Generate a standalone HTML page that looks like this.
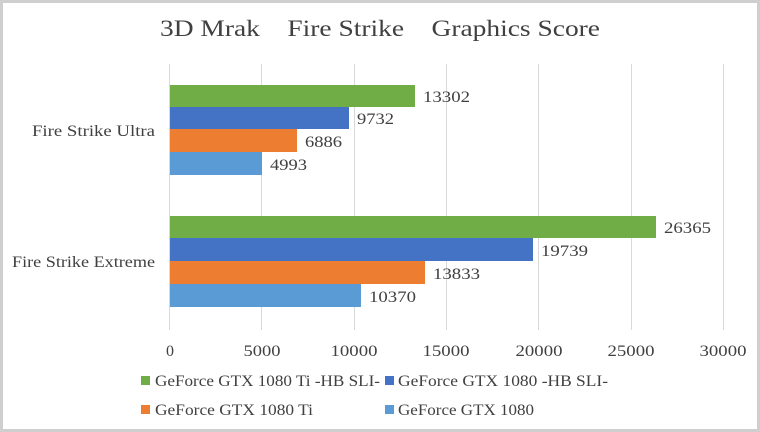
<!DOCTYPE html>
<html><head><style>
html,body{margin:0;padding:0;background:#fff;}
svg{display:block;}
text{font-family:"Liberation Serif","Noto Serif CJK SC",serif;fill:#404040;}
</style></head><body>
<svg width="760" height="432" xmlns="http://www.w3.org/2000/svg">
<rect x="1.5" y="1.5" width="757" height="429" fill="#fff" stroke="#cfcfcf" stroke-width="3"/>
<text x="160" y="36" font-size="23" textLength="440" lengthAdjust="spacingAndGlyphs" fill="#404040">3D Mrak　Fire Strike　Graphics Score</text>
<g stroke="#d9d9d9" stroke-width="1">
<line x1="169.5" y1="64" x2="169.5" y2="330"/>
<line x1="261.5" y1="64" x2="261.5" y2="330"/>
<line x1="354.5" y1="64" x2="354.5" y2="330"/>
<line x1="446.5" y1="64" x2="446.5" y2="330"/>
<line x1="538.5" y1="64" x2="538.5" y2="330"/>
<line x1="631.5" y1="64" x2="631.5" y2="330"/>
<line x1="723.5" y1="64" x2="723.5" y2="330"/>
</g>
<g>
<rect x="170" y="85" width="245" height="22" fill="#70ad47"/>
<rect x="170" y="107" width="179" height="22" fill="#4472c4"/>
<rect x="170" y="129" width="127" height="23" fill="#ed7d31"/>
<rect x="170" y="152" width="92" height="23" fill="#5b9bd5"/>
<rect x="170" y="216" width="486" height="22" fill="#70ad47"/>
<rect x="170" y="238" width="363" height="23" fill="#4472c4"/>
<rect x="170" y="261" width="255" height="23" fill="#ed7d31"/>
<rect x="170" y="284" width="191" height="23" fill="#5b9bd5"/>
</g>
<g font-size="16">
<text x="423" y="102" textLength="47" lengthAdjust="spacingAndGlyphs">13302</text>
<text x="357" y="124" textLength="37" lengthAdjust="spacingAndGlyphs">9732</text>
<text x="305" y="147" textLength="37" lengthAdjust="spacingAndGlyphs">6886</text>
<text x="270" y="170" textLength="37" lengthAdjust="spacingAndGlyphs">4993</text>
<text x="664" y="233" textLength="47" lengthAdjust="spacingAndGlyphs">26365</text>
<text x="541" y="256" textLength="47" lengthAdjust="spacingAndGlyphs">19739</text>
<text x="433" y="279" textLength="47" lengthAdjust="spacingAndGlyphs">13833</text>
<text x="369" y="302" textLength="47" lengthAdjust="spacingAndGlyphs">10370</text>
<text x="32" y="136" textLength="123" lengthAdjust="spacingAndGlyphs">Fire Strike Ultra</text>
<text x="12" y="267" textLength="143" lengthAdjust="spacingAndGlyphs">Fire Strike Extreme</text>
</g>
<g font-size="16" text-anchor="middle">
<text x="170" y="356">0</text>
<text x="262" y="356" textLength="37" lengthAdjust="spacingAndGlyphs">5000</text>
<text x="354" y="356" textLength="47" lengthAdjust="spacingAndGlyphs">10000</text>
<text x="446" y="356" textLength="47" lengthAdjust="spacingAndGlyphs">15000</text>
<text x="539" y="356" textLength="47" lengthAdjust="spacingAndGlyphs">20000</text>
<text x="631" y="356" textLength="47" lengthAdjust="spacingAndGlyphs">25000</text>
<text x="723" y="356" textLength="47" lengthAdjust="spacingAndGlyphs">30000</text>
</g>
<g font-size="16">
<rect x="141" y="376" width="9" height="9" fill="#70ad47"/>
<text x="155" y="386" textLength="225" lengthAdjust="spacingAndGlyphs">GeForce GTX 1080 Ti -HB SLI-</text>
<rect x="385" y="376" width="9" height="9" fill="#4472c4"/>
<text x="398" y="386" textLength="210" lengthAdjust="spacingAndGlyphs">GeForce GTX 1080 -HB SLI-</text>
<rect x="141" y="405" width="9" height="9" fill="#ed7d31"/>
<text x="155" y="415" textLength="158" lengthAdjust="spacingAndGlyphs">GeForce GTX 1080 Ti</text>
<rect x="385" y="405" width="9" height="9" fill="#5b9bd5"/>
<text x="398" y="415" textLength="136" lengthAdjust="spacingAndGlyphs">GeForce GTX 1080</text>
</g>
</svg>
</body></html>
